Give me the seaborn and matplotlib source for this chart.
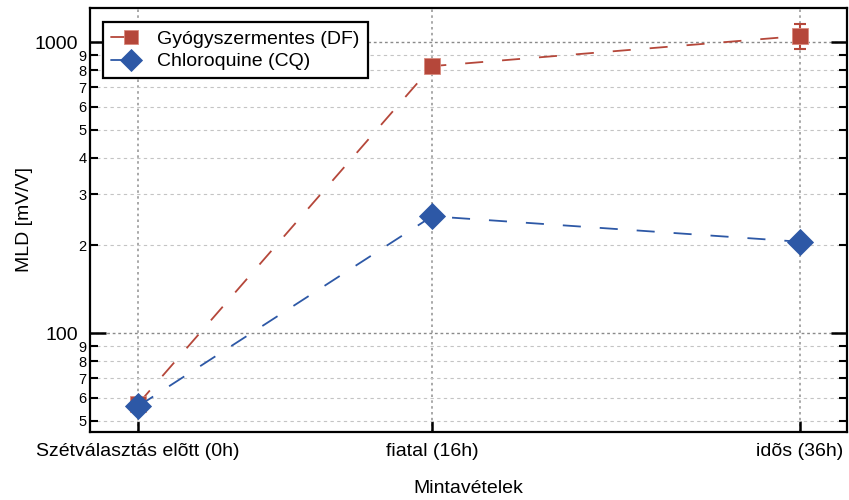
import matplotlib
matplotlib.use("Agg")
import matplotlib.pyplot as plt
import matplotlib.ticker as mticker
from matplotlib.legend_handler import HandlerLine2D
import numpy as np
import pandas as pd
import seaborn as sns

# Sampling times (hours) and their category labels
hours = [0, 16, 36]
tick_labels = ["Szétválasztás elõtt (0h)", "fiatal (16h)", "idõs (36h)"]

# MLD values [mV/V]
df_values = [57, 827, 1050]
df_errors = [0, 0, 105]
cq_values = [56, 252, 206]
cq_errors = [0, 0, 0]

series_names = ["Gyógyszermentes (DF)", "Chloroquine (CQ)"]
red = "#b5473a"
blue = "#2d58a6"


class MarkerAtEnd(HandlerLine2D):
    """Legend handle: short line with the marker sitting at its right end."""
    def create_artists(self, legend, orig_handle, xdescent, ydescent,
                       width, height, fontsize, trans):
        artists = super().create_artists(legend, orig_handle, xdescent, ydescent,
                                         width, height, fontsize, trans)
        for a in artists:
            a.set_linestyle("-")
            a.set_markevery([2])
        return artists


sns.set_theme(style="white")
plt.rcParams["font.family"] = ["Liberation Sans", "DejaVu Sans"]
for key in ("text.color", "axes.labelcolor", "xtick.color", "ytick.color"):
    plt.rcParams[key] = "black"

fig = plt.figure(figsize=(8.49, 5.00), dpi=100)
ax = fig.add_axes([90 / 849, 1 - 432 / 500, (847 - 90) / 849, (432 - 8) / 500])

data = pd.DataFrame({
    "t": hours * 2,
    "MLD": df_values + cq_values,
    "err": df_errors + cq_errors,
    "sor": [series_names[0]] * 3 + [series_names[1]] * 3,
})

dash = (0, (10, 10.5))
sns.lineplot(data=data[data["sor"] == series_names[0]], x="t", y="MLD", ax=ax,
             color=red, linestyle=dash, linewidth=1.3, marker="s", markersize=12,
             markeredgecolor="#d98a7e", markeredgewidth=0.6,
             label=series_names[0], zorder=3)
sns.lineplot(data=data[data["sor"] == series_names[1]], x="t", y="MLD", ax=ax,
             color=blue, linestyle=dash, linewidth=1.3, marker="D", markersize=13.5,
             markeredgecolor=blue, markeredgewidth=0.6,
             label=series_names[1], zorder=4)

# error bars for the drug-free series
ax.errorbar(hours, df_values, yerr=df_errors, fmt="none", ecolor=red,
            elinewidth=1.5, capsize=4.5, capthick=1.5, zorder=2)

ax.set_yscale("log")
ax.set_ylim(45.7, 1310)
ax.set_xlim(-2.61, 38.56)

ax.set_xticks(hours)
ax.set_xticklabels(tick_labels, fontsize=14)

ax.yaxis.set_major_locator(mticker.LogLocator(base=10, subs=(1.0,)))
ax.yaxis.set_minor_locator(mticker.LogLocator(base=10, subs=np.arange(2, 10)))
ax.yaxis.set_major_formatter(mticker.FuncFormatter(lambda v, p: f"{v:.0f}"))
ax.yaxis.set_minor_formatter(
    mticker.FuncFormatter(lambda v, p: f"{int(round(v / 10 ** np.floor(np.log10(v) + 1e-9)))}"))
ax.tick_params(axis="y", which="major", labelsize=14, direction="in",
               length=11.5, width=1.8, left=True, right=True, color="black", pad=8.5)
ax.tick_params(axis="y", which="minor", labelsize=10.5, direction="in",
               length=5.5, width=1.5, left=True, right=True, color="black", pad=2.5)
ax.tick_params(axis="x", which="major", direction="in", length=8, width=1.8,
               bottom=True, top=False, color="black", pad=8)

ax.grid(True, axis="x", which="major", color="#9a9a9a", linestyle=(0, (1.5, 2)), linewidth=1.2)
ax.grid(True, axis="y", which="major", color="#8a8a8a", linestyle=(0, (2, 2)), linewidth=1.0)
ax.grid(True, axis="y", which="minor", color="#c4c4c4", linestyle=(0, (3, 3)), linewidth=0.8)
ax.set_axisbelow(True)

for s in ax.spines.values():
    s.set_color("black")
    s.set_linewidth(1.6)
    s.set_visible(True)

ax.set_xlabel("Mintavételek", fontsize=14, labelpad=14)
ax.set_ylabel("MLD [mV/V]", fontsize=14, labelpad=1)

leg = ax.legend(loc="upper left", bbox_to_anchor=(0.012, 0.975), fontsize=14,
                frameon=True, fancybox=False, edgecolor="black", framealpha=1,
                handlelength=1.05, borderpad=0.4, labelspacing=0.25,
                handletextpad=1.35, borderaxespad=0.2, markerscale=0.8,
                handler_map={plt.Line2D: MarkerAtEnd(numpoints=1)})
leg.get_frame().set_linewidth(1.6)

fig.savefig("out.png", dpi=100)
